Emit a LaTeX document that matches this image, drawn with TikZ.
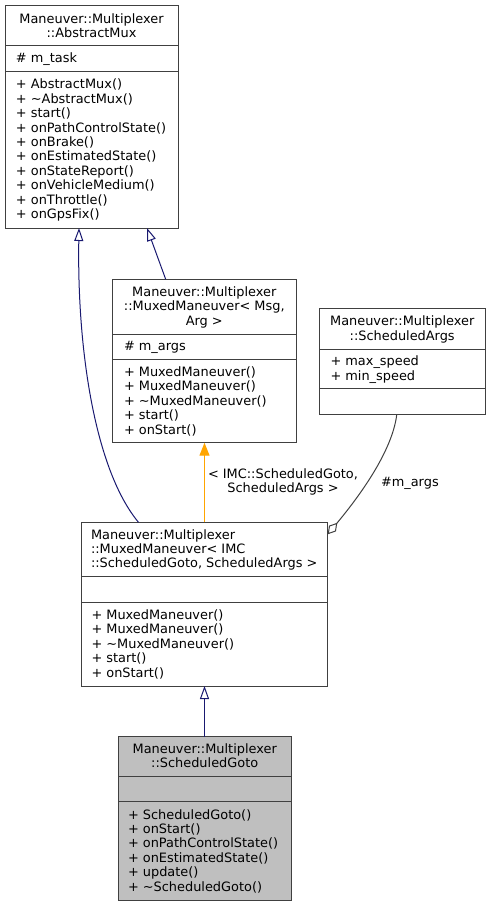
\documentclass[tikz,border=0pt]{standalone}
\usepackage{fontspec}
\setmainfont{DejaVu Sans}
\usetikzlibrary{arrows.meta,calc}
\definecolor{edgeblue}{RGB}{25,25,112}
\definecolor{boxline}{RGB}{64,64,64}
\definecolor{inhorange}{RGB}{255,165,0}
\definecolor{hlgray}{RGB}{191,191,191}
\begin{document}
\begin{tikzpicture}[x=1pt,y=-1pt,
  cls/.style={draw=boxline, line width=1pt, anchor=north west, inner sep=0pt, outer sep=0pt},
  sep/.style={draw=boxline, line width=1pt},
  txt/.style={inner sep=0pt, outer sep=0pt, font=\fontsize{12.9}{14.4}\selectfont, text=black},
  ltxt/.style={txt, anchor=north west, align=left},
  ctxt/.style={txt, anchor=north, align=center},
  inhblue/.style={draw=edgeblue, line width=1pt, -{Triangle[open, length=13pt, width=9pt]}},
  inhorg/.style={draw=inhorange, line width=1.2pt, -{Triangle[length=13pt, width=10pt, fill=inhorange]}},
  usage/.style={draw=boxline, line width=1pt, -{Diamond[open, length=15pt, width=9pt]}}
]
\useasboundingbox (0,0) rectangle (492,907);

% ---- AbstractMux
\node[cls, minimum width=173pt, minimum height=222pt] (A) at (5,6) {};
\draw[sep] ($(A.north west)+(0,40)$) -- ($(A.north east)+(0,40)$);
\draw[sep] ($(A.north west)+(0,65)$) -- ($(A.north east)+(0,65)$);
\node[ctxt] (At) at (91.5,13.0) {\strut Maneuver::Multiplexer\\::AbstractMux};
\node[ltxt] (Aa) at (16,52.7) {\strut\# m\_task};
\node[ltxt] (Am) at (16,78.9) {\strut + AbstractMux()\\+ \char"223C AbstractMux()\\+ start()\\+ onPathControlState()\\+ onBrake()\\+ onEstimatedState()\\+ onStateReport()\\+ onVehicleMedium()\\+ onThrottle()\\+ onGpsFix()};

% ---- MuxedManeuver< Msg, Arg >
\node[cls, minimum width=183.3pt, minimum height=163.4pt] (B) at (112.7,279.3) {};
\draw[sep] ($(B.north west)+(0,54.7)$) -- ($(B.north east)+(0,54.7)$);
\draw[sep] ($(B.north west)+(0,80)$) -- ($(B.north east)+(0,80)$);
\node[ctxt] (Bt) at (204.3,286.5) {\strut Maneuver::Multiplexer\\::MuxedManeuver< Msg,\\Arg >};
\node[ltxt] (Ba) at (124,340.9) {\strut\# m\_args};
\node[ltxt] (Bm) at (124,366.4) {\strut + MuxedManeuver()\\+ MuxedManeuver()\\+ \char"223C MuxedManeuver()\\+ start()\\+ onStart()};

% ---- ScheduledArgs
\node[cls, minimum width=165.7pt, minimum height=106pt] (C) at (319.3,308.3) {};
\draw[sep] ($(C.north west)+(0,40.7)$) -- ($(C.north east)+(0,40.7)$);
\draw[sep] ($(C.north west)+(0,80)$) -- ($(C.north east)+(0,80)$);
\node[ctxt] (Ct) at (402.2,315.7) {\strut Maneuver::Multiplexer\\::ScheduledArgs};
\node[ltxt] (Ca) at (330.5,355.7) {\strut + max\_speed\\+ min\_speed};

% ---- MuxedManeuver< IMC::ScheduledGoto, ScheduledArgs >
\node[cls, minimum width=246.7pt, minimum height=163.7pt] (D) at (81,522.3) {};
\draw[sep] ($(D.north west)+(0,53.7)$) -- ($(D.north east)+(0,53.7)$);
\draw[sep] ($(D.north west)+(0,79.7)$) -- ($(D.north east)+(0,79.7)$);
\node[ltxt] (Dt) at (91,529.0) {\strut Maneuver::Multiplexer\\::MuxedManeuver< IMC\\::ScheduledGoto, ScheduledArgs >};
\node[ltxt] (Dm) at (91.5,609.4) {\strut + MuxedManeuver()\\+ MuxedManeuver()\\+ \char"223C MuxedManeuver()\\+ start()\\+ onStart()};

% ---- ScheduledGoto
\node[cls, fill=hlgray, minimum width=172.7pt, minimum height=164pt] (E) at (118.3,736.7) {};
\draw[sep] ($(E.north west)+(0,39.3)$) -- ($(E.north east)+(0,39.3)$);
\draw[sep] ($(E.north west)+(0,64.3)$) -- ($(E.north east)+(0,64.3)$);
\node[ctxt] (Et) at (204.7,743.4) {\strut Maneuver::Multiplexer\\::ScheduledGoto};
\node[ltxt] (Em) at (128,809.1) {\strut + ScheduledGoto()\\+ onStart()\\+ onPathControlState()\\+ onEstimatedState()\\+ update()\\+ \char"223C ScheduledGoto()};

% ---- connectors
\draw[inhblue] ($(B.north west)+(53,0)$) -- ($(A.south west)+(142,0)$);
\draw[inhblue] ($(D.north west)+(57.5,0)$) .. controls (95,470) and (77,350) .. ($(A.south west)+(74,0)$);
\draw[inhorg] ($(D.north west)+(123.5,0)$) -- ($(B.south west)+(91.8,0)$);
\draw[usage] ($(C.south west)+(77.5,0)$) .. controls (392,455) and (352,505) .. ($(D.north east)+(0,12)$);
\draw[inhblue] ($(E.north west)+(86.2,0)$) -- ($(D.south west)+(123.5,0)$);

% ---- labels
\node[ctxt] (Lorg) at (283,468.2) {\strut < IMC::ScheduledGoto,\\ScheduledArgs >};
\node[ltxt] (Lusg) at (381,476.2) {\strut\#m\_args};
\end{tikzpicture}
\end{document}
